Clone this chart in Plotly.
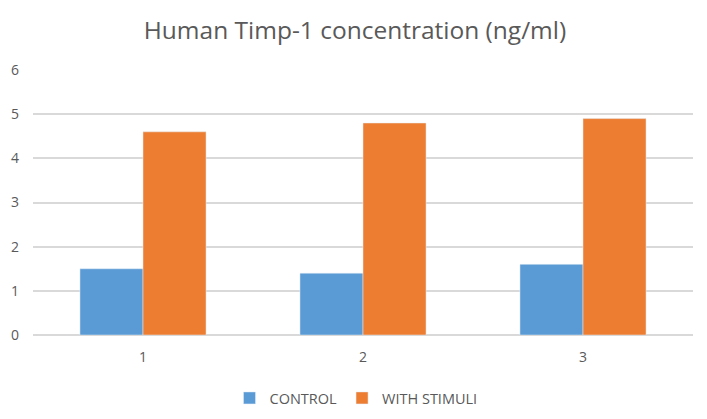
import plotly.graph_objects as go

categories = ["1", "2", "3"]
control = [1.5, 1.4, 1.6]
with_stimuli = [4.6, 4.8, 4.9]
y_ticks = [0, 1, 2, 3, 4, 5, 6]

font_family = "'Open Sans', sans-serif"
W, H = 707, 419
fig = go.Figure()
fig.add_trace(go.Bar(x=categories, y=control, name="CONTROL", marker_color="#5B9BD5"))
fig.add_trace(go.Bar(x=categories, y=with_stimuli, name="WITH STIMULI", marker_color="#ED7D31"))

plot_h = 335 - 70
fig.update_layout(
    width=W, height=H,
    margin=dict(l=25, r=22, t=62, b=92),
    paper_bgcolor="white", plot_bgcolor="white",
    barmode="group", bargap=0.427, bargroupgap=0,
    title=dict(text="Human Timp-1 concentration (ng/ml)", x=(355 - 8) / W, xanchor="center",
               y=1 - 22 / H, yanchor="middle",
               font=dict(family=font_family, size=24.5, color="#595959")),
    font=dict(family=font_family, size=13, color="#595959"),
    legend=dict(orientation="h", x=(356 - 8 - 25) / (W - 47), xanchor="center",
                y=-63 / plot_h, yanchor="middle",
                font=dict(size=14.5, color="#595959"), itemwidth=30, traceorder="normal"),
    showlegend=True,
)
fig.update_yaxes(range=[0, 6], tickvals=y_ticks, showgrid=True, gridcolor="#D9D9D9", gridwidth=1.5,
                 zeroline=True, zerolinecolor="#D9D9D9", zerolinewidth=1.5, showline=False,
                 automargin=False, ticklabelstandoff=13, tickfont=dict(size=14, color="#595959"))
fig.update_xaxes(showline=False, showgrid=False, automargin=False, ticklabelstandoff=12,
                 tickfont=dict(size=14, color="#595959"))

fig.write_html("out.html")
